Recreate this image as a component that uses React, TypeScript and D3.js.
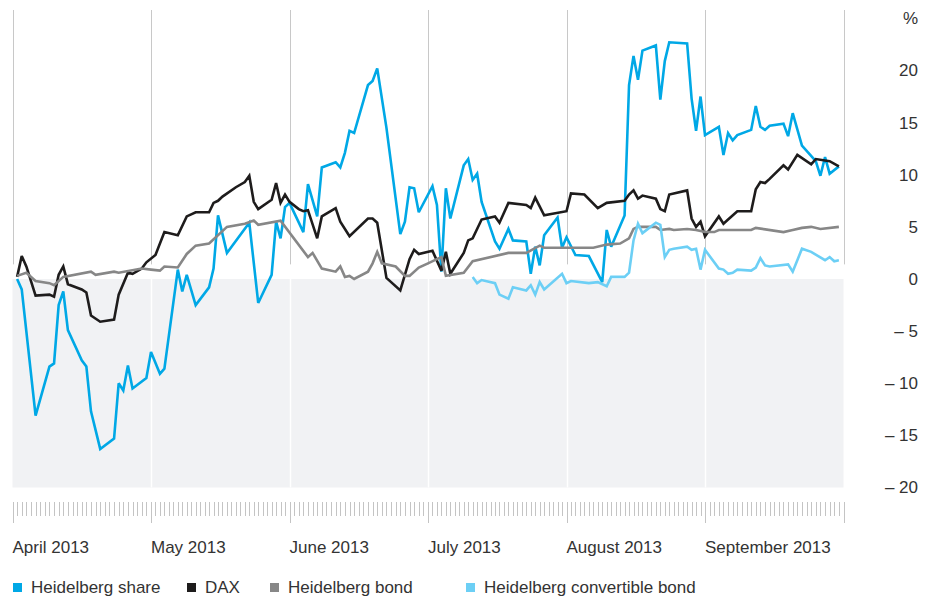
import React from 'react';
import * as d3 from 'd3';

// readings (percent change since start of April 2013)
const shareSeries: [string, number][] = [
  ['04-02', 0.0], ['04-03', -1.0], ['04-06', -13.1], ['04-09', -8.4], ['04-10', -8.1], ['04-11', -2.5],
  ['04-12', -1.2], ['04-13', -4.9], ['04-16', -7.8], ['04-17', -8.4], ['04-18', -12.7], ['04-20', -16.3],
  ['04-23', -15.3], ['04-24', -10.0], ['04-25', -10.7], ['04-26', -8.3], ['04-27', -10.5], ['04-30', -9.5],
  ['05-01', -7.0], ['05-03', -9.1], ['05-04', -8.6], ['05-07', 0.9], ['05-08', -1.2], ['05-09', 0.4],
  ['05-11', -2.5], ['05-14', -0.8], ['05-15', 1.0], ['05-16', 6.1], ['05-18', 2.5], ['05-23', 5.4],
  ['05-25', -2.3], ['05-28', 0.4], ['05-29', 5.5], ['05-30', 3.9], ['05-31', 6.9], ['06-01', 7.3],
  ['06-04', 4.5], ['06-05', 9.1], ['06-07', 6.0], ['06-08', 10.7], ['06-11', 11.2], ['06-12', 10.7],
  ['06-13', 12.1], ['06-14', 14.2], ['06-15', 14.0], ['06-18', 18.6], ['06-19', 19.0], ['06-20', 20.2],
  ['06-22', 14.5], ['06-25', 4.3], ['06-26', 5.5], ['06-27', 8.8], ['06-28', 8.7], ['06-29', 6.4],
  ['07-02', 8.9], ['07-03', 7.1], ['07-04', 0.7], ['07-05', 8.7], ['07-06', 5.8], ['07-09', 10.9],
  ['07-10', 11.5], ['07-11', 9.5], ['07-12', 10.1], ['07-13', 7.4], ['07-16', 3.6], ['07-17', 2.9],
  ['07-19', 4.8], ['07-20', 3.7], ['07-23', 3.6], ['07-24', 0.5], ['07-25', 3.1], ['07-26', 1.3],
  ['07-27', 4.2], ['07-30', 5.9], ['07-31', 3.0], ['08-01', 4.0], ['08-03', 2.3], ['08-06', 2.2],
  ['08-09', -0.3], ['08-10', 4.7], ['08-11', 3.1], ['08-14', 6.1], ['08-15', 18.6], ['08-16', 21.4],
  ['08-17', 19.1], ['08-18', 21.9], ['08-21', 22.4], ['08-22', 17.2], ['08-23', 20.9], ['08-24', 22.7],
  ['08-28', 22.6], ['08-29', 17.3], ['08-30', 14.2], ['08-31', 17.5], ['09-01', 13.8], ['09-04', 14.6],
  ['09-05', 11.9], ['09-06', 14.0], ['09-07', 13.3], ['09-08', 13.8], ['09-11', 14.3], ['09-12', 16.6],
  ['09-13', 14.6], ['09-14', 14.3], ['09-15', 14.7], ['09-18', 14.9], ['09-19', 13.7], ['09-20', 15.9],
  ['09-22', 12.8], ['09-25', 11.3], ['09-26', 9.9], ['09-27', 11.7], ['09-28', 10.1], ['09-30', 10.8],
];

const daxSeries: [string, number][] = [
  ['04-02', 0.2], ['04-03', 2.2], ['04-04', 1.2], ['04-06', -1.6], ['04-09', -1.5], ['04-10', -1.7],
  ['04-11', 0.4], ['04-12', 1.2], ['04-13', -0.5], ['04-16', -1.0], ['04-17', -1.3], ['04-18', -3.5],
  ['04-20', -4.1], ['04-23', -3.9], ['04-24', -1.5], ['04-26', 0.6], ['04-27', 0.5], ['04-29', 1.0],
  ['04-30', 1.6], ['05-02', 2.3], ['05-04', 4.5], ['05-07', 4.2], ['05-09', 6.0], ['05-11', 6.4],
  ['05-14', 6.4], ['05-15', 7.3], ['05-16', 7.5], ['05-17', 7.9], ['05-20', 8.8], ['05-22', 9.3],
  ['05-23', 9.9], ['05-24', 7.4], ['05-25', 6.7], ['05-28', 7.6], ['05-29', 9.2], ['05-30', 7.3],
  ['05-31', 8.1], ['06-01', 7.4], ['06-03', 6.7], ['06-04', 6.5], ['06-05', 6.6], ['06-07', 3.9],
  ['06-08', 6.0], ['06-11', 6.8], ['06-12', 5.5], ['06-14', 4.1], ['06-18', 5.8], ['06-19', 5.8],
  ['06-20', 5.4], ['06-22', 0.1], ['06-25', -1.1], ['06-27', 1.9], ['06-28', 2.8], ['06-29', 2.4],
  ['07-02', 2.7], ['07-04', 0.8], ['07-05', 2.6], ['07-06', 0.5], ['07-09', 2.5], ['07-10', 3.7],
  ['07-11', 3.9], ['07-13', 5.7], ['07-14', 5.8], ['07-16', 6.0], ['07-17', 5.4], ['07-19', 7.3],
  ['07-23', 7.1], ['07-24', 6.8], ['07-25', 7.8], ['07-27', 6.1], ['08-01', 6.5], ['08-02', 8.2],
  ['08-05', 8.1], ['08-08', 6.8], ['08-10', 7.3], ['08-14', 7.5], ['08-15', 8.1], ['08-16', 8.5],
  ['08-17', 7.7], ['08-18', 8.0], ['08-21', 7.7], ['08-22', 6.7], ['08-23', 6.5], ['08-24', 8.1],
  ['08-25', 8.2], ['08-28', 8.5], ['08-29', 5.8], ['08-30', 5.0], ['08-31', 5.5], ['09-01', 4.1],
  ['09-04', 6.0], ['09-05', 5.3], ['09-06', 5.7], ['09-08', 6.5], ['09-11', 6.5], ['09-12', 8.6],
  ['09-13', 9.3], ['09-14', 9.2], ['09-15', 9.6], ['09-18', 10.9], ['09-19', 10.5], ['09-21', 11.9],
  ['09-24', 11.0], ['09-25', 11.5], ['09-28', 11.3], ['09-30', 10.8],
];

const bondSeries: [string, number][] = [
  ['04-02', 0.3], ['04-04', 0.6], ['04-06', -0.2], ['04-09', -0.4], ['04-10', -0.6], ['04-12', 0.2],
  ['04-18', 0.7], ['04-19', 0.4], ['04-23', 0.7], ['04-24', 0.6], ['04-29', 1.0], ['05-01', 0.9],
  ['05-03', 0.8], ['05-04', 1.2], ['05-07', 1.1], ['05-09', 2.4], ['05-11', 3.2], ['05-14', 3.4],
  ['05-18', 5.0], ['05-22', 5.3], ['05-24', 5.6], ['05-25', 5.2], ['05-30', 5.6], ['06-05', 2.1],
  ['06-06', 2.5], ['06-08', 1.0], ['06-11', 0.7], ['06-12', 1.2], ['06-13', 0.2], ['06-14', 0.3],
  ['06-15', 0.0], ['06-18', 0.7], ['06-19', 1.5], ['06-20', 2.6], ['06-21', 1.5], ['06-24', 1.2],
  ['06-26', 0.3], ['06-27', 0.3], ['06-29', 1.1], ['07-01', 1.5], ['07-03', 1.9], ['07-04', 2.1],
  ['07-05', 0.3], ['07-09', 0.6], ['07-11', 1.7], ['07-19', 2.5], ['07-23', 2.5], ['07-26', 3.2],
  ['07-27', 3.0], ['08-01', 3.0], ['08-07', 3.0], ['08-10', 3.3], ['08-13', 3.4], ['08-15', 3.9],
  ['08-16', 4.8], ['08-17', 5.0], ['08-21', 5.0], ['08-22', 4.7], ['08-24', 4.8], ['08-25', 4.7],
  ['08-28', 4.8], ['08-30', 4.7], ['09-01', 4.5], ['09-03', 4.5], ['09-04', 4.7], ['09-06', 4.7],
  ['09-11', 4.7], ['09-12', 4.9], ['09-18', 4.5], ['09-20', 4.7], ['09-22', 4.9], ['09-24', 5.0],
  ['09-26', 4.8], ['09-30', 5.0],
];

const convertibleSeries: [string, number][] = [
  ['07-11', 0.2], ['07-12', -0.4], ['07-13', -0.1], ['07-16', -0.4], ['07-17', -1.5], ['07-19', -1.9],
  ['07-20', -0.8], ['07-23', -1.1], ['07-24', -0.6], ['07-25', -1.5], ['07-26', -0.3], ['07-27', -1.0],
  ['07-31', 0.5], ['08-01', -0.4], ['08-02', -0.2], ['08-06', -0.4], ['08-08', -0.3], ['08-10', -0.7],
  ['08-11', 0.2], ['08-14', 0.2], ['08-15', 0.6], ['08-16', 3.7], ['08-17', 5.3], ['08-18', 4.4],
  ['08-21', 5.4], ['08-22', 5.2], ['08-23', 2.1], ['08-24', 2.8], ['08-25', 2.9], ['08-28', 3.1],
  ['08-29', 2.8], ['08-30', 2.9], ['08-31', 0.9], ['09-01', 2.8], ['09-04', 1.0], ['09-05', 0.9],
  ['09-06', 0.5], ['09-07', 0.6], ['09-08', 0.9], ['09-11', 0.8], ['09-12', 1.1], ['09-13', 2.0],
  ['09-14', 1.3], ['09-15', 1.2], ['09-19', 1.4], ['09-20', 0.7], ['09-22', 2.9], ['09-24', 2.6],
  ['09-27', 1.8], ['09-28', 2.1], ['09-29', 1.7], ['09-30', 1.8],
];

const monthStarts = ['04-01', '05-01', '06-01', '07-01', '08-01', '09-01', '10-01'];
const monthLabels = ['April 2013', 'May 2013', 'June 2013', 'July 2013', 'August 2013', 'September 2013'];
const yTicks = [-20, -15, -10, -5, 0, 5, 10, 15, 20];

const seriesNames = ['Heidelberg share', 'DAX', 'Heidelberg bond', 'Heidelberg convertible bond'];
const seriesColors = ['#00a8e6', '#1e1c1c', '#878787', '#6ccff5'];
const allSeries = [shareSeries, daxSeries, bondSeries, convertibleSeries];
const legendX = [13, 187, 270, 466];

const parse = d3.timeParse('%Y-%m-%d');
const toDate = (s: string) => parse('2013-' + s) as Date;

const FONT = '"Liberation Sans", Arial, sans-serif';

const App = () => {
  const left = 12.5;
  const step = 138.5;
  const months = monthStarts.map(toDate);

  // every month gets the same width, days are spread inside it
  const x = d3
    .scaleTime()
    .domain(months)
    .range(months.map((_, i) => left + i * step));

  const y = d3.scaleLinear().domain([-20, 25.8]).range([487.5, 10]);

  const line = d3
    .line<[string, number]>()
    .x((d) => x(toDate(d[0])))
    .y((d) => y(d[1]));

  const days = d3.timeDay.range(months[0], d3.timeDay.offset(months[months.length - 1], 1));
  const right = x(months[months.length - 1]);

  return (
    <div style={{ position: 'absolute', left: 0, top: 0 }}>
      <svg width={927} height={599} style={{ display: 'block' }} fontFamily={FONT}>
        {/* negative area */}
        <rect x={left} y={y(0)} width={right - left} height={y(-20) - y(0)} fill="#f1f2f4" />

        {/* month grid */}
        {months.map((m, i) => {
          const gx = Math.round(x(m)) + 0.5;
          return (
            <g key={'grid' + i}>
              <line x1={gx} x2={gx} y1={y(25.8)} y2={y(1.4)} stroke="#c8c8c8" strokeWidth={1} />
              {i > 0 && i < months.length - 1 && (
                <line x1={gx} x2={gx} y1={y(0)} y2={y(-20)} stroke="#ffffff" strokeWidth={1.5} />
              )}
            </g>
          );
        })}

        {/* series */}
        {allSeries.map((s, i) => (
          <path
            key={seriesNames[i]}
            d={line(s) || ''}
            fill="none"
            stroke={seriesColors[i]}
            strokeWidth={2.6}
            strokeLinejoin="miter"
            strokeMiterlimit={3}
          />
        ))}

        {/* daily ticks */}
        {days.map((d, i) => {
          const tx = Math.round(x(d)) + 0.5;
          const long = d.getDate() === 1;
          return (
            <line
              key={'t' + i}
              x1={tx}
              x2={tx}
              y1={502}
              y2={long ? 523 : 516}
              stroke="#c4c4c4"
              strokeWidth={1}
            />
          );
        })}

        {/* month labels */}
        {monthLabels.map((label, i) => (
          <text key={label} x={x(months[i])} y={553} fontSize={17} fill="#333">
            {label}
          </text>
        ))}

        {/* y labels */}
        <text x={918} y={y(25)} dy="0.35em" textAnchor="end" fontSize={17} fill="#333">
          %
        </text>
        {yTicks.map((t) => (
          <text key={t} x={918} y={y(t)} dy="0.35em" textAnchor="end" fontSize={17} fill="#333">
            {t < 0 ? '\u2013 ' + Math.abs(t) : t}
          </text>
        ))}

        {/* legend */}
        {seriesNames.map((name, i) => (
          <g key={'lg' + name}>
            <rect x={legendX[i]} y={583} width={9} height={9} fill={seriesColors[i]} />
            <text x={legendX[i] + 18} y={593} fontSize={17} fill="#333">
              {name}
            </text>
          </g>
        ))}
      </svg>
    </div>
  );
};

export default App;
